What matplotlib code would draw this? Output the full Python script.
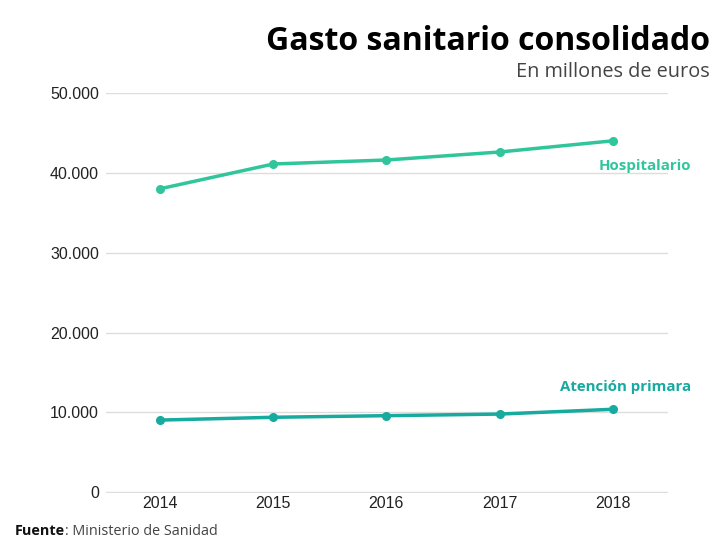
import matplotlib
matplotlib.use("Agg")
from matplotlib import pyplot as plt
from matplotlib.ticker import FuncFormatter

# datos (millones de euros)
anios = ["2014", "2015", "2016", "2017", "2018"]
hospitalario = [38000, 41100, 41600, 42600, 44000]
atencion_primaria = [9050, 9400, 9600, 9800, 10400]
yticks = [0, 10000, 20000, 30000, 40000, 50000]

color_hosp = "#30c59b"
color_ap = "#17aa9f"

def miles(v, pos):
    return f"{int(v):,}".replace(",", ".")

fig = plt.figure(figsize=(7.2, 5.4), dpi=100)
ax = fig.add_axes([0.147, 0.087, 0.781, 0.741])

x = list(range(len(anios)))
ax.plot(x, hospitalario, color=color_hosp, lw=2.5, marker="o", ms=5.5, zorder=3)
ax.plot(x, atencion_primaria, color=color_ap, lw=2.5, marker="o", ms=5.5, zorder=3)

ax.set_xlim(-0.48, 4.49)
ax.set_ylim(-80, 50000)
ax.set_yticks(yticks)
ax.yaxis.set_major_formatter(FuncFormatter(miles))
ax.set_xticks(x)
ax.set_xticklabels(anios)
ax.grid(axis="y", color="#dddddd", lw=1)
ax.set_axisbelow(True)
for s in ax.spines.values():
    s.set_visible(False)
ax.tick_params(length=0, labelsize=11.5, colors="#222222")
ax.tick_params(axis="y", pad=5)
ax.tick_params(axis="x", pad=2)
for lbl in ax.get_xticklabels() + ax.get_yticklabels():
    lbl.set_family("Liberation Sans")

# etiquetas de series
ax.text(4.28, 40900, "Hospitalario", color=color_hosp, fontsize=10.8,
        fontweight="bold", family="Open Sans", ha="center", va="center")
ax.text(4.11, 13200, "Atención primara", color=color_ap, fontsize=10.8,
        fontweight="bold", family="Open Sans", ha="center", va="center")

# titulo
fig.text(0.986, 0.907, "Gasto sanitario consolidado", fontsize=23, fontweight="bold",
         family="Open Sans", ha="right", va="baseline", color="#000000")
fig.text(0.986, 0.857, "En millones de euros", fontsize=14.3,
         family="Open Sans", ha="right", va="baseline", color="#444444")

# fuente
t = fig.text(0.021, 0.009, "Fuente", fontsize=10.4, fontweight="bold",
             family="Open Sans", ha="left", va="baseline", color="#111111")
fig.canvas.draw()
bb = t.get_window_extent().transformed(fig.transFigure.inverted())
fig.text(bb.x1, 0.009, ": Ministerio de Sanidad", fontsize=10.4,
         family="Open Sans", ha="left", va="baseline", color="#444444")

fig.savefig("out.png", dpi=100)
